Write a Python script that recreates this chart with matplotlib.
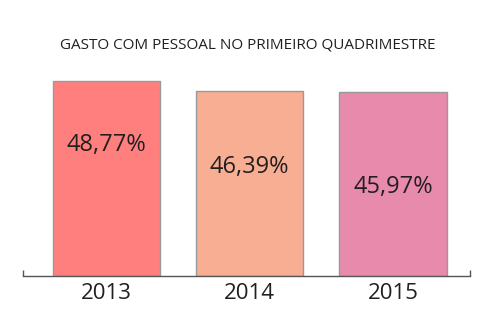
import matplotlib
matplotlib.use("Agg")
import matplotlib.pyplot as plt

years = ["2013", "2014", "2015"]
values = [48.77, 46.39, 45.97]
value_labels = ["48,77%", "46,39%", "45,97%"]
title = "GASTO COM PESSOAL NO PRIMEIRO QUADRIMESTRE"

colors = ["#FF7F7F", "#F8AE93", "#E88AAC"]
label_heights_px = [131, 109, 89]

plt.rcParams['font.family'] = ['Open Sans', 'DejaVu Sans']
W, H = 500, 326
fig = plt.figure(figsize=(W / 100, H / 100), dpi=100)
x0, x1 = 22.7, 470.3
ybase, ytop = 276, 60
ax = fig.add_axes([x0 / W, 1 - ybase / H, (x1 - x0) / W, (ybase - ytop) / H])

xs = list(range(len(years)))
ax.bar(xs, values, width=0.75, color=colors, edgecolor="#999999", linewidth=1)
ax.set_xlim(-0.584, 2.539)
ax.set_ylim(0, 54.1)

for x, lab, hp in zip(xs, value_labels, label_heights_px):
    ax.annotate(lab, (x, 0), xytext=(0, hp * 72 / 100), textcoords="offset points",
                ha="center", va="center", fontsize=17, color="#231f20")

ax.set_xticks(xs)
ax.set_xticklabels(years, fontsize=16, color="#231f20")
ax.tick_params(axis="x", length=0, pad=5)
ax.set_xticks([-0.584, 2.539], minor=True)
ax.tick_params(axis="x", which="minor", direction="in", length=4, color="#555555", width=1)
ax.set_yticks([])
for s in ["left", "right", "top"]:
    ax.spines[s].set_visible(False)
ax.spines["bottom"].set_color("#555555")
ax.spines["bottom"].set_linewidth(1)

fig.text(247.5 / W, 1 - 45 / H, title, ha="center", va="center", fontsize=11, color="#231f20")

fig.savefig("out.png", dpi=100)
